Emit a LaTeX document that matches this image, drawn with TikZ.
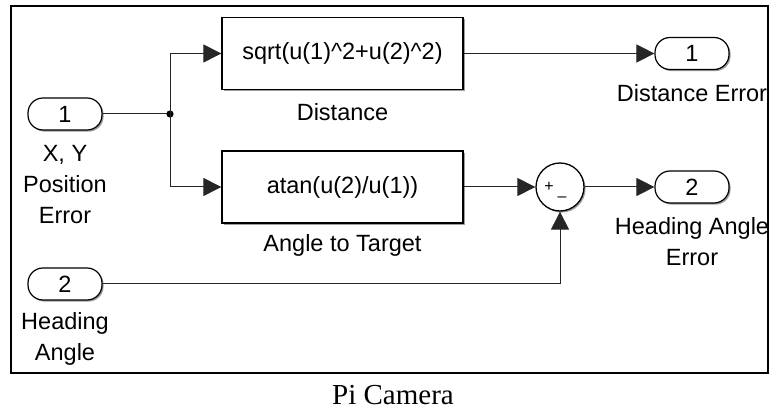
\documentclass[tikz,border=0pt]{standalone}
\usepackage{fontspec}
\setmainfont{Liberation Sans}
\newfontfamily\capfont{Liberation Serif}
\usetikzlibrary{arrows.meta,shadows}
\begin{document}
\begin{tikzpicture}[x=1pt,y=-1pt,
  every node/.style={font=\fontsize{23.5}{31}\selectfont},
  shad/.style={drop shadow={shadow xshift=1.6pt,shadow yshift=-1.6pt,opacity=0.55,fill=black!70}},
  port/.style={draw, line width=1.2pt, rounded corners=15pt, minimum width=74pt, minimum height=32pt, inner sep=0pt, fill=white, shad},
  blk/.style={draw, line width=1.3pt, minimum width=241pt, minimum height=72pt, inner sep=0pt, fill=white, shad},
  lbl/.style={align=center, inner sep=0pt},
  conn/.style={line width=1pt, draw=black!85},
  arr/.style={conn, -{Triangle[length=18pt,width=18pt]}},
]
\useasboundingbox (0,0) rectangle (770,411);
\draw[line width=2.8pt] (11,6) rectangle (768,373);

% ports
\node[port] (in1) at (65,114) {1};
\node[port] (in2) at (65,284) {2};
\node[port] (out1) at (692,53.5) {1};
\node[port] (out2) at (692,187) {2};

% blocks
\node[blk] (dist) at (342.5,53.5) {sqrt(u(1)\^{}2+u(2)\^{}2)};
\node[blk] (ang) at (342.5,187) {atan(u(2)/u(1))};
\node[draw, circle, line width=1.3pt, minimum size=48pt, inner sep=0pt, fill=white, shad] (sum) at (560,187) {};
\node[font=\fontsize{16}{16}\selectfont, inner sep=0pt] (sp) at (549,187) {+};
\node[font=\fontsize{16}{16}\selectfont, inner sep=0pt] (sm) at (562,199) {\textendash};

% labels
\node[lbl] (lin1) at (65,185) {X, Y\\Position\\Error};
\node[lbl] (lin2) at (65,339) {Heading\\Angle};
\node[lbl] (lout1) at (692,93) {Distance Error};
\node[lbl] (lout2) at (692,242) {Heading Angle\\Error};
\node[lbl] (ldist) at (342.5,112) {Distance};
\node[lbl] (lang) at (342.5,245) {Angle to Target};
\node[font=\capfont\fontsize{29}{29}\selectfont, inner sep=0pt] (cap) at (393,395) {Pi Camera};

% connectors
\coordinate (jn) at (170,114);
\draw[conn] (in1.east) -- (jn);
\fill (jn) circle (3.6pt);
\draw[arr] (jn) |- (dist.west);
\draw[arr] (jn) |- (ang.west);
\draw[arr] (dist.east) -- (out1.west);
\draw[arr] (ang.east) -- (sum.west);
\draw[arr] (sum.east) -- (out2.west);
\draw[arr] (in2.east) -| (sum.south);
\end{tikzpicture}
\end{document}
